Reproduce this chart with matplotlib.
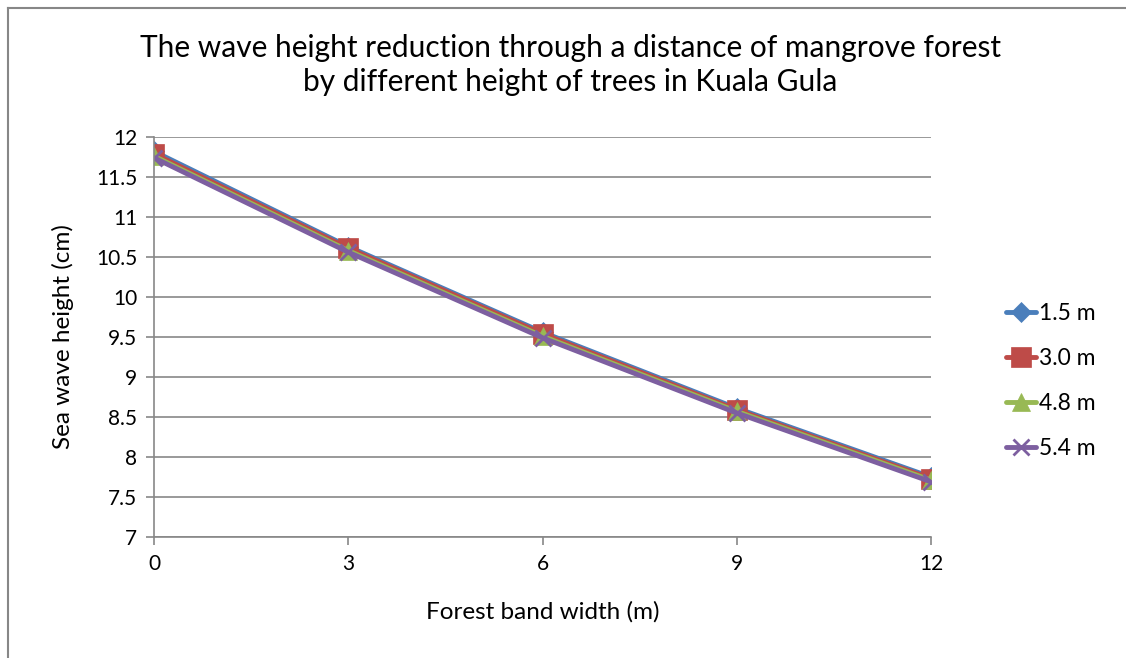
import matplotlib.pyplot as plt
from matplotlib.lines import Line2D

plt.rcParams['font.family'] = ['Lato', 'DejaVu Sans']

# forest band width (m)
widths = [0, 3, 6, 9, 12]
h_15 = [11.82, 10.63, 9.56, 8.61, 7.75]
h_30 = [11.79, 10.61, 9.54, 8.59, 7.73]
h_48 = [11.76, 10.58, 9.51, 8.57, 7.71]
h_54 = [11.74, 10.56, 9.49, 8.55, 7.69]
labels = ['1.5 m', '3.0 m', '4.8 m', '5.4 m']
yticks = [7, 7.5, 8, 8.5, 9, 9.5, 10, 10.5, 11, 11.5, 12]

colors = ['#4A7EBB', '#BE4B48', '#98B954', '#7D5FA0']
markers = ['D', 's', '^', 'x']
msizes = [10, 15, 13, 12]

fig = plt.figure(figsize=(11.26, 6.58), dpi=100)
ax = fig.add_axes([0.1368, 0.1839, 0.69, 0.6079])

for ys, lab, c, mk, ms in zip([h_15, h_30, h_48, h_54], labels, colors, markers, msizes):
    ax.plot(widths, ys, color=c, lw=3.5, marker=mk, markersize=ms,
            markeredgewidth=2 if mk == 'x' else 0.5, markeredgecolor=c, label=lab,
            solid_capstyle='round')

ax.set_xlim(0, 12)
ax.set_ylim(7, 12)
ax.set_xticks(widths)
ax.set_xticklabels([str(w) for w in widths])
ax.set_yticks(yticks)
ax.set_yticklabels([f'{t:g}' for t in yticks])
ax.grid(axis='y', color='#878787', lw=1.2)
ax.set_axisbelow(True)
for s in ['top', 'right']:
    ax.spines[s].set_visible(False)
for s in ['left', 'bottom']:
    ax.spines[s].set_color('#878787')
    ax.spines[s].set_linewidth(1.2)
ax.tick_params(axis='both', labelsize=15, color='#878787', length=6, width=1.2, pad=6)

ax.set_xlabel('Forest band width (m)', fontsize=17.5, labelpad=20)
ax.set_ylabel('Sea wave height (cm)', fontsize=17.5, labelpad=16)
fig.text(570/1126, 1 - 65/658,
         'The wave height reduction through a distance of mangrove forest\nby different height of trees in Kuala Gula',
         fontsize=21.5, ha='center', va='center', linespacing=1.3)

ax.legend(loc='center left', bbox_to_anchor=(1.07, 0.39), frameon=False, fontsize=16.5,
          handlelength=1.3, labelspacing=1.05, handletextpad=0.15)

# chart border
fig.add_artist(Line2D([8/1126, 8/1126], [0, 1 - 8/658], color='#878787', lw=1.5))
fig.add_artist(Line2D([8/1126, 1], [1 - 8/658, 1 - 8/658], color='#878787', lw=1.5))

fig.savefig('out.png', dpi=100)
